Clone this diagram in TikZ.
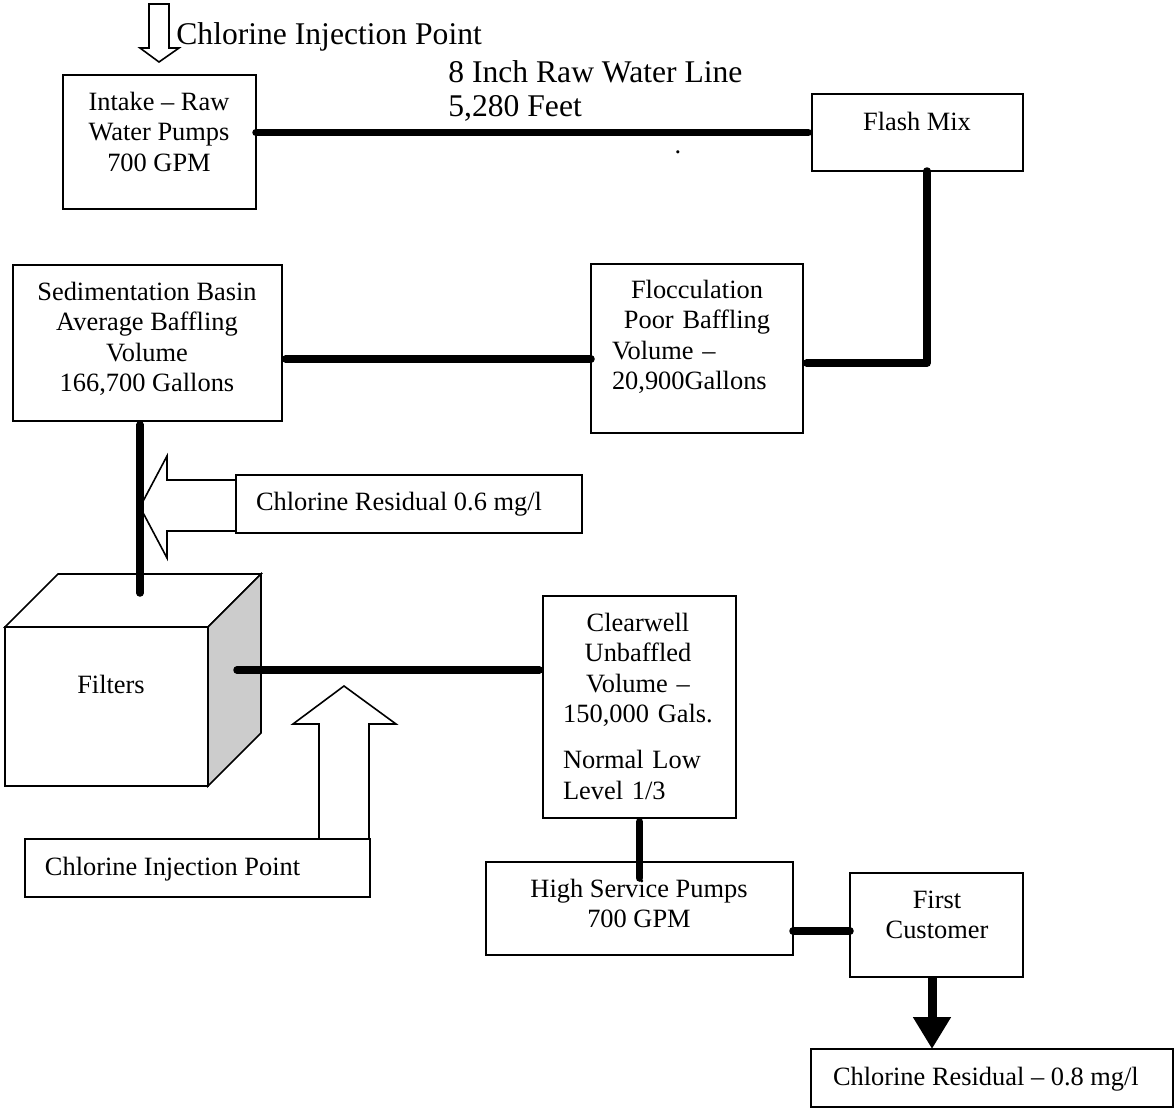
\documentclass[tikz,border=0pt]{standalone}
\usepackage{fontspec}
\setmainfont{Liberation Serif}
\usetikzlibrary{arrows.meta}
\setlength\parindent{0pt}
\definecolor{sidegray}{HTML}{CCCCCC}
\newcommand\bxfont{\fontsize{13.2pt}{15.25pt}\selectfont}
\newcommand\tpfont{\fontsize{15.8pt}{17pt}\selectfont}
\newcommand\tstrut{\rule{0pt}{10pt}}
\newcommand\ttstrut{\rule{0pt}{12pt}}
\tikzset{
  box/.style={draw, line width=0.8pt, fill=white, inner sep=0pt, outer sep=0pt},
  txt/.style={font=\bxfont, inner sep=0pt, outer sep=0pt},
  ctxt/.style={txt, align=center, anchor=north},
  pipe/.style={line width=3.75pt, line cap=round, line join=round},
  flushend/.style={shorten >=1.875pt},
  flushstart/.style={shorten <=1.875pt},
  blockarrow/.style={draw, line width=0.8pt, fill=white, line join=miter},
  flowarrow/.style={line width=4.5pt, -{Triangle[width=18pt,length=16pt]}}
}
\begin{document}
\begin{tikzpicture}[x=0.5pt, y=-0.5pt]
\useasboundingbox (0,0) rectangle (1175,1108);

% block arrows (behind boxes)
\draw[blockarrow] (236,480) -- (167,480) -- (167,456) -- (140,507) -- (167,558) -- (167,531) -- (236,531);
\draw[blockarrow] (319,839) -- (319,724) -- (293,724) -- (344,686) -- (396,724) -- (369,724) -- (369,839);

% filters cube
\node[box, minimum width=101.5pt, minimum height=79.5pt] (filters) at (106.5,706.5) {};
\draw[line width=0.8pt, fill=white, line join=miter] (filters.north west) -- (58,574) -- (261,574) -- (filters.north east) -- cycle;
\draw[line width=0.8pt, fill=sidegray, line join=miter] (filters.north east) -- (261,574) -- (261,733) -- (filters.south east) -- cycle;
\node[txt, anchor=base] (filters-t) at (111,693) {Filters};

% boxes
\node[box, minimum width=96.5pt, minimum height=67pt] (intake) at (159.5,142) {};
\node[box, minimum width=105.5pt, minimum height=38.5pt] (flash) at (917.5,132.5) {};
\node[box, minimum width=106pt, minimum height=84.5pt] (floc) at (697,348.5) {};
\node[box, minimum width=134.5pt, minimum height=78pt] (sed) at (147.5,343) {};
\node[box, minimum width=173pt, minimum height=29pt] (res1) at (409,504) {};
\node[box, minimum width=96.5pt, minimum height=111pt] (clear) at (639.5,707) {};
\node[box, minimum width=172.5pt, minimum height=29pt] (inj) at (197.5,868) {};
\node[box, minimum width=153.5pt, minimum height=46.5pt] (hs) at (639.5,908.5) {};
\node[box, minimum width=86.5pt, minimum height=52pt] (fc) at (936.5,925) {};
\node[box, minimum width=181pt, minimum height=29pt] (res2) at (992,1078) {};

% texts
\node[font=\tpfont, anchor=base west, inner sep=0pt] (inj-top-t) at (176,45) {Chlorine Injection Point};
\node[font=\tpfont, align=left, anchor=north west, inner sep=0pt] (line-t) at (448,58) {\ttstrut 8 Inch Raw Water Line\\5,280 Feet};
\node[txt, anchor=base] (dot-t) at (678,153) {.};
\node[ctxt] (intake-t) at (159,90) {\tstrut Intake – Raw\\Water Pumps\\700 GPM};
\node[txt, anchor=base] (flash-t) at (917,130) {Flash Mix};
\node[txt, text width=85pt, anchor=north] (floc-t) at (697,278) {{\centering\tstrut Flocculation\\Poor Baffling\par}{\raggedright Volume –\\20,900Gallons\par}};
\node[ctxt] (sed-t) at (147,280) {\tstrut Sedimentation Basin\\Average Baffling\\Volume\\166,700 Gallons};
\node[txt, anchor=base west] (res1-t) at (256,510) {Chlorine Residual 0.6 mg/l};
\node[txt, text width=75pt, anchor=north] (clear-t) at (638,611) {{\centering\tstrut Clearwell\\Unbaffled\\Volume –\\150,000 Gals.\par}\vspace{7.75pt}{\raggedright Normal Low\\Level 1/3\par}};
\node[txt, anchor=base west] (inj-t) at (45,875) {Chlorine Injection Point};
\node[ctxt] (hs-t) at (639,877) {\tstrut High Service Pumps\\700 GPM};
\node[ctxt] (fc-t) at (937,888) {\tstrut First\\Customer};
\node[txt, anchor=base west] (res2-t) at (833,1085) {Chlorine Residual – 0.8 mg/l};

% connector helper coordinates
\coordinate (c-fm) at (927,363);
\coordinate (c-sf) at (0,359);
\coordinate (c-ft) at (140,593);
\coordinate (c-fs) at (237,670);
\coordinate (c-hs) at (639,878);
\coordinate (c-hf) at (0,931);
\coordinate (c-ar) at (932,0);

% pipes
\draw[pipe, flushend] (intake.east |- flash.west) -- (flash.west);
\draw[pipe, flushend] (flash.south -| c-fm) -- (c-fm) -- (floc.east |- c-fm);
\draw[pipe, flushstart] (sed.east |- c-sf) -- (floc.west |- c-sf);
\draw[pipe, flushstart] (sed.south -| c-ft) -- (c-ft);
\draw[pipe, flushend] (c-fs) -- (clear.west |- c-fs);
\draw[pipe, flushstart] (clear.south) -- (clear.south |- c-hs);
\draw[pipe] (hs.east |- c-hf) -- (fc.west |- c-hf);
\draw[flowarrow] (fc.south -| c-ar) -- (res2.north -| c-ar);

% top injection arrow
\coordinate (c-tip) at (159,62);
\draw[blockarrow] (149,4) -- (169,4) -- (169,48) -- (179,48) -- (c-tip) -- (140,48) -- (149,48) -- cycle;
\end{tikzpicture}
\end{document}
